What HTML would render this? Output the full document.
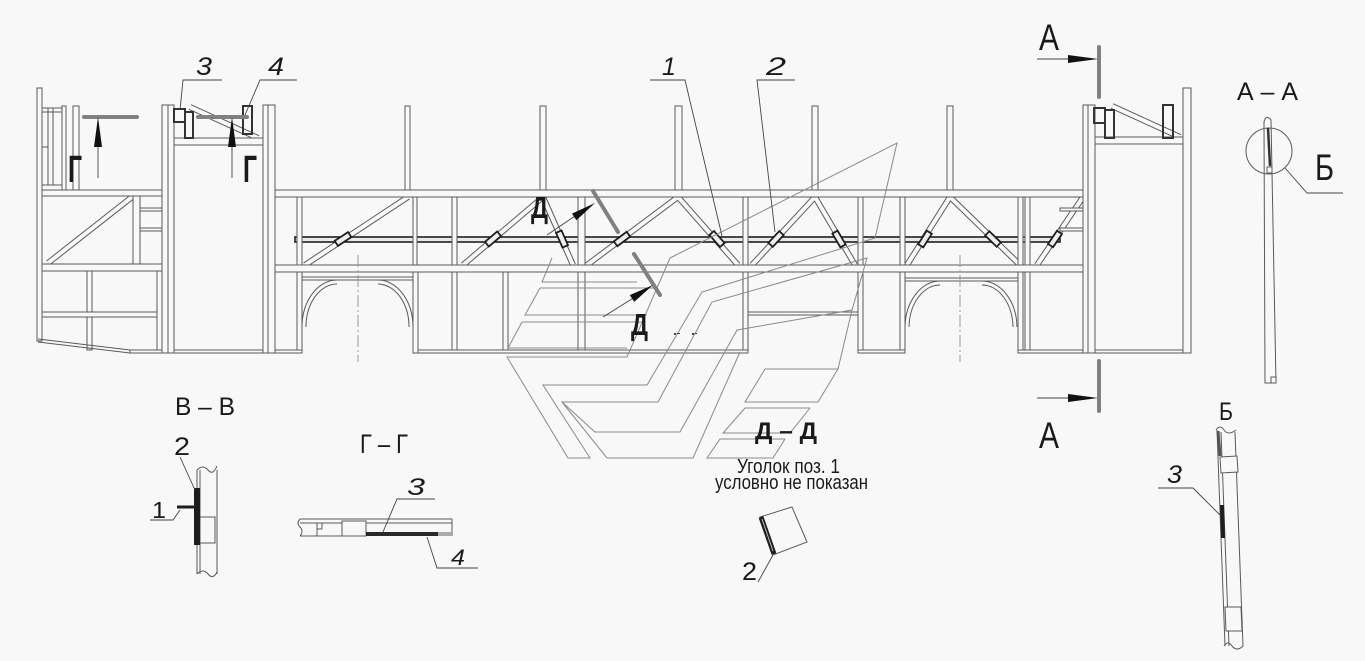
<!DOCTYPE html>
<html><head><meta charset="utf-8">
<style>
html,body{margin:0;padding:0;background:#f8f8f8;}
svg{display:block;}
.t{fill:#f8f8f8;stroke:#5a5a5a;stroke-width:1;}
.l{stroke:#5a5a5a;stroke-width:1;fill:none;}
.d{stroke:#5a5a5a;stroke-width:6;}
.di{stroke:#f8f8f8;stroke-width:4;}
.w{fill:none;stroke:#8a8a8a;stroke-width:1;}
.ld{stroke:#444;stroke-width:0.9;fill:none;}
.br{fill:none;stroke:#333;stroke-width:2;}
.clip{fill:#eee;stroke:#1e1e1e;stroke-width:1.8;}
text{font-family:"Liberation Sans",sans-serif;fill:#1a1a1a;}
</style></head><body>
<svg width="1365" height="661" viewBox="0 0 1365 661" xmlns="http://www.w3.org/2000/svg">
<rect x="0" y="0" width="1365" height="661" fill="#f8f8f8"/>

<!-- ===== DIAGONALS ===== -->
<g class="d">
<line x1="48" y1="263" x2="132" y2="197"/>
<line x1="190" y1="107" x2="258" y2="138"/>
<line x1="305" y1="265" x2="408" y2="197"/>
<line x1="463" y1="265" x2="543" y2="197"/>
<line x1="543" y1="197" x2="573" y2="265"/>
<line x1="587" y1="265" x2="678" y2="197"/>
<line x1="678" y1="197" x2="738" y2="265"/>
<line x1="752" y1="265" x2="815" y2="197"/>
<line x1="815" y1="197" x2="855" y2="265"/>
<line x1="907" y1="265" x2="950" y2="197"/>
<line x1="950" y1="197" x2="1020" y2="265"/>
<line x1="1037" y1="265" x2="1083" y2="197"/>
<line x1="1112" y1="106" x2="1180" y2="137"/>
</g>
<g class="di">
<line x1="48" y1="263" x2="132" y2="197"/>
<line x1="190" y1="107" x2="258" y2="138"/>
<line x1="305" y1="265" x2="408" y2="197"/>
<line x1="463" y1="265" x2="543" y2="197"/>
<line x1="543" y1="197" x2="573" y2="265"/>
<line x1="587" y1="265" x2="678" y2="197"/>
<line x1="678" y1="197" x2="738" y2="265"/>
<line x1="752" y1="265" x2="815" y2="197"/>
<line x1="815" y1="197" x2="855" y2="265"/>
<line x1="907" y1="265" x2="950" y2="197"/>
<line x1="950" y1="197" x2="1020" y2="265"/>
<line x1="1037" y1="265" x2="1083" y2="197"/>
<line x1="1112" y1="106" x2="1180" y2="137"/>
</g>

<!-- ===== RAIL ===== -->
<rect x="295" y="237" width="765" height="5" fill="#eaeaea" stroke="#1e1e1e" stroke-width="1.6"/>

<!-- clips -->
<g class="clip">
<rect x="340" y="231" width="6" height="16" transform="rotate(56.6 343 239)"/>
<rect x="490" y="231" width="6" height="16" transform="rotate(49.6 493 239)"/>
<rect x="559" y="231" width="6" height="16" transform="rotate(-23.8 562 239)"/>
<rect x="619" y="231" width="6" height="16" transform="rotate(53.2 622 239)"/>
<rect x="714" y="231" width="6" height="16" transform="rotate(-41.4 717 239)"/>
<rect x="773" y="231" width="6" height="16" transform="rotate(42.8 776 239)"/>
<rect x="836" y="231" width="6" height="16" transform="rotate(-30.5 839 239)"/>
<rect x="922" y="231" width="6" height="16" transform="rotate(32.3 925 239)"/>
<rect x="990" y="231" width="6" height="16" transform="rotate(-45.8 993 239)"/>
<rect x="1052" y="231" width="6" height="16" transform="rotate(34.1 1055 239)"/>
</g>

<!-- ===== LEFT SECTION ===== -->
<g class="t">
<rect x="37" y="88" width="5" height="253"/>
<rect x="42" y="108" width="20" height="82"/>
<rect x="62" y="106" width="4" height="84"/>
<rect x="73" y="106" width="6" height="84"/>
<rect x="42" y="190" width="126" height="6"/>
<rect x="133" y="196" width="7" height="68"/>
<rect x="140" y="208" width="22" height="3"/>
<rect x="140" y="228" width="22" height="3"/>
<rect x="42" y="264" width="126" height="7"/>
<rect x="87" y="271" width="5" height="79"/>
<rect x="42" y="312" width="115" height="5"/>
<rect x="157" y="271" width="5" height="82"/>
<rect x="130" y="350" width="38" height="3"/>
</g>
<g class="l">
<line x1="48" y1="108" x2="48" y2="185"/>
<line x1="53" y1="108" x2="53" y2="185"/>
<line x1="42" y1="112" x2="62" y2="112"/>
<line x1="42" y1="147" x2="48" y2="147"/>
<line x1="42" y1="185" x2="62" y2="185"/>
<line x1="38" y1="339" x2="130" y2="350"/>
<line x1="38" y1="342" x2="130" y2="353"/>
</g>

<!-- ===== LEFT BLOCK ===== -->
<g class="t">
<rect x="162" y="105" width="12" height="248"/>
<rect x="263" y="105" width="12" height="248"/>
<rect x="174" y="138" width="89" height="7"/>
<rect x="174" y="350" width="89" height="3"/>
</g>
<g class="l">
<line x1="168" y1="105" x2="168" y2="353"/>
<line x1="268" y1="105" x2="268" y2="353"/>
</g>
<g class="br">
<rect x="174" y="109" width="11" height="13"/>
<rect x="185" y="112" width="8" height="26"/>
<rect x="243" y="106" width="9" height="28"/>
</g>

<!-- ===== MAIN SECTION ===== -->
<g class="t">
<rect x="275" y="190" width="808" height="7"/>
<rect x="275" y="265" width="813" height="7"/>
<!-- upper posts -->
<rect x="405" y="106" width="5" height="84"/>
<rect x="540" y="106" width="6" height="84"/>
<rect x="675" y="106" width="7" height="84"/>
<rect x="812" y="106" width="6" height="84"/>
<rect x="947" y="106" width="6" height="84"/>
<!-- between beams -->
<rect x="297" y="197" width="5" height="68"/>
<rect x="413" y="197" width="4" height="68"/>
<rect x="452" y="197" width="5" height="68"/>
<rect x="578" y="197" width="7" height="68"/>
<rect x="743" y="197" width="5" height="68"/>
<rect x="858" y="197" width="5" height="68"/>
<rect x="900" y="197" width="5" height="68"/>
<rect x="1018" y="197" width="5" height="68"/>
<rect x="1025" y="197" width="5" height="68"/>
<rect x="1060" y="208" width="23" height="3"/>
<rect x="1060" y="228" width="23" height="3"/>
<!-- below lower beam -->
<rect x="297" y="272" width="5" height="81"/>
<rect x="413" y="272" width="5" height="81"/>
<rect x="452" y="272" width="5" height="81"/>
<rect x="503" y="272" width="5" height="81"/>
<rect x="578" y="272" width="7" height="81"/>
<rect x="743" y="272" width="5" height="81"/>
<rect x="858" y="272" width="5" height="81"/>
<rect x="900" y="272" width="5" height="81"/>
<rect x="1018" y="272" width="5" height="81"/>
<rect x="1025" y="272" width="5" height="81"/>
<rect x="748" y="312" width="110" height="3"/>
<rect x="302" y="277" width="111" height="3"/>
<rect x="905" y="278" width="113" height="3"/>
<!-- bottoms -->
<rect x="275" y="350" width="27" height="3"/>
<rect x="418" y="350" width="330" height="3"/>
<rect x="858" y="350" width="47" height="3"/>
<rect x="1018" y="350" width="173" height="3"/>
</g>
<!-- arches -->
<g class="l">
<path d="M302,327 A35,47 0 0 1 337,280"/>
<path d="M306,327 A31,43 0 0 1 337,284"/>
<path d="M378,280 A35,47 0 0 1 413,327"/>
<path d="M378,284 A31,43 0 0 1 409,327"/>
<path d="M905,327 A35,47 0 0 1 940,281"/>
<path d="M909,327 A31,43 0 0 1 940,285"/>
<path d="M982,281 A35,47 0 0 1 1017,327"/>
<path d="M982,285 A31,43 0 0 1 1013,327"/>
</g>
<g stroke="#9a9a9a" stroke-width="1" stroke-dasharray="12 3 2 3">
<line x1="358" y1="255" x2="358" y2="362"/>
<line x1="960" y1="255" x2="960" y2="362"/>
</g>

<!-- ===== RIGHT BLOCK ===== -->
<g class="t">
<rect x="1083" y="105" width="12" height="248"/>
<rect x="1183" y="88" width="8" height="265"/>
<rect x="1095" y="137" width="88" height="7"/>
<rect x="1095" y="350" width="88" height="3"/>
</g>
<line class="l" x1="1088" y1="105" x2="1088" y2="353"/>
<g class="br">
<rect x="1094" y="108" width="11" height="15"/>
<rect x="1105" y="110" width="9" height="28"/>
<rect x="1163" y="105" width="10" height="33"/>
</g>

<!-- ===== WATERMARK LOGO ===== -->
<g class="w">
<polygon points="507,357 627,357 670,258 897,143 875,238 702,292 647,385 543,385 590,458 568,458"/>
<polyline points="552,258 542,282 637,282"/>
<polyline points="540,288 657,288"/>
<polyline points="540,288 525,315 647,315"/>
<polyline points="522,322 643,322"/>
<polyline points="522,322 508,348 627,348"/>
<polygon points="562,402 658,402 712,302 867,258 852,310 737,330 680,432 595,432"/>
<polyline points="562,402 607,458 693,458 740,352"/>
<polyline points="852,310 838,369 765,369 745,402 818,402 838,369"/>
<polyline points="810,408 745,408 723,433 790,433 810,408"/>
<polyline points="785,439 720,439 707,458 773,458 785,439"/>
</g>
<g fill="#444">
<rect x="674" y="333" width="2" height="2"/><rect x="677" y="333" width="3" height="1"/>
<rect x="692" y="333" width="2" height="2"/><rect x="695" y="333" width="2" height="1"/>
</g>

<!-- ===== SECTION MARKERS ===== -->
<g stroke="#808080" stroke-width="4" stroke-linecap="round">
<line x1="84" y1="117" x2="137" y2="117"/>
<line x1="198" y1="117" x2="247" y2="117"/>
<line x1="1099" y1="47" x2="1099" y2="97"/>
<line x1="1099" y1="361" x2="1099" y2="411"/>
<line x1="593" y1="191" x2="618" y2="232"/>
<line x1="634" y1="254" x2="660" y2="295"/>
</g>
<g class="ld">
<line x1="98" y1="140" x2="98" y2="178"/>
<line x1="232" y1="140" x2="232" y2="178"/>
<line x1="1037" y1="59" x2="1075" y2="59"/>
<line x1="1037" y1="398" x2="1075" y2="398"/>
<line x1="547" y1="235" x2="578" y2="214"/>
<line x1="603" y1="317" x2="635" y2="297"/>
</g>
<g fill="#111">
<polygon points="98,117 94,147 102,147"/>
<polygon points="232,117 228,147 236,147"/>
<polygon points="1098,59 1068,55 1068,63"/>
<polygon points="1098,398 1068,394 1068,402"/>
<polygon points="595,203 576.4,220.2 572,213.6"/>
<polygon points="653,285 634.2,301.9 629.8,295.1"/>
</g>

<!-- letters on main view -->
<text x="68" y="182" font-size="38" font-weight="bold" textLength="14" lengthAdjust="spacingAndGlyphs">Г</text>
<text x="243" y="182" font-size="38" font-weight="bold" textLength="14" lengthAdjust="spacingAndGlyphs">Г</text>
<text x="531" y="218" font-size="31" font-weight="bold" textLength="17" lengthAdjust="spacingAndGlyphs">Д</text>
<text x="631" y="335" font-size="31" font-weight="bold" textLength="17" lengthAdjust="spacingAndGlyphs">Д</text>
<text x="1039" y="50" font-size="37" textLength="20" lengthAdjust="spacingAndGlyphs">А</text>
<text x="1039" y="448" font-size="37" textLength="20" lengthAdjust="spacingAndGlyphs">А</text>

<!-- position numbers -->
<g font-style="italic">
<text x="196" y="75" font-size="25" textLength="16" lengthAdjust="spacingAndGlyphs">3</text>
<text x="268" y="75" font-size="25" textLength="16" lengthAdjust="spacingAndGlyphs">4</text>
<text x="662" y="75" font-size="25" textLength="14" lengthAdjust="spacingAndGlyphs">1</text>
<text x="766" y="75" font-size="25" textLength="20" lengthAdjust="spacingAndGlyphs">2</text>
</g>
<g class="ld">
<polyline points="222,80 183,80 180,110"/>
<polyline points="297,80 260,80 245,115"/>
<polyline points="650,80 685,80 722,236"/>
<polyline points="795,80 757,80 775,232"/>
</g>

<!-- ===== A-A VIEW ===== -->
<text x="1237" y="100" font-size="25" textLength="61" lengthAdjust="spacingAndGlyphs">А – А</text>
<circle cx="1269" cy="151" r="23" class="l"/>
<path class="l" d="M1265,383 L1264,122 Q1266,114 1271,120 L1276,383 Z"/>
<line x1="1268" y1="128" x2="1270" y2="166" stroke="#333" stroke-width="2.5"/>
<rect x="1267" y="167" width="5" height="6" class="t"/>
<rect x="1271" y="377" width="5" height="6" class="t"/>
<polyline class="ld" points="1285,168 1307,193 1343,193"/>
<text x="1315" y="180" font-size="37" textLength="19" lengthAdjust="spacingAndGlyphs">Б</text>

<!-- ===== Б DETAIL ===== -->
<text x="1219" y="420" font-size="25" textLength="14" lengthAdjust="spacingAndGlyphs">Б</text>
<g class="l">
<line x1="1217" y1="430" x2="1225" y2="646"/>
<line x1="1221" y1="432" x2="1229" y2="646"/>
<line x1="1235" y1="432" x2="1243" y2="646"/>
<path d="M1216,430 Q1220,424 1224,430 Q1228,436 1236,430"/>
<path d="M1224,646 Q1228,640 1232,646 Q1237,652 1243,646"/>
<polygon points="1220,457 1237,456 1238,472 1221,473" fill="#f8f8f8"/>
<polygon points="1225,607 1241,607 1242,631 1226,631" fill="#f8f8f8"/>
</g>
<line x1="1218" y1="431" x2="1220" y2="456" stroke="#555" stroke-width="3"/>
<line x1="1222" y1="505" x2="1223" y2="538" stroke="#1e1e1e" stroke-width="4"/>
<text x="1167" y="483" font-size="25" font-style="italic" textLength="15" lengthAdjust="spacingAndGlyphs">3</text>
<polyline class="ld" points="1158,488 1193,488 1220,515"/>

<!-- ===== В-В ===== -->
<text x="175" y="415" font-size="25" textLength="60" lengthAdjust="spacingAndGlyphs">В – В</text>
<g class="l">
<line x1="197" y1="470" x2="197" y2="574"/>
<line x1="200" y1="470" x2="200" y2="574"/>
<line x1="217" y1="470" x2="217" y2="574"/>
<path d="M197,470 Q203,464 208,470 Q213,476 217,466"/>
<path d="M197,574 Q203,568 208,574 Q213,580 217,572"/>
<rect x="200" y="517" width="15" height="26" fill="#f8f8f8"/>
</g>
<rect x="194" y="488" width="6" height="57" fill="#1e1e1e"/>
<line x1="177" y1="507" x2="194" y2="507" stroke="#1e1e1e" stroke-width="3"/>
<text x="174" y="455" font-size="25" textLength="16" lengthAdjust="spacingAndGlyphs">2</text>
<text x="152" y="518" font-size="23" textLength="14" lengthAdjust="spacingAndGlyphs">1</text>
<g class="ld">
<line x1="180" y1="457" x2="195" y2="490"/>
<polyline points="150,520 173,520 180,510"/>
</g>

<!-- ===== Г-Г ===== -->
<text x="360" y="453" font-size="27" textLength="48" lengthAdjust="spacingAndGlyphs">Г – Г</text>
<g class="l">
<line x1="300" y1="519" x2="452" y2="519"/>
<line x1="300" y1="523" x2="317" y2="523"/>
<line x1="366" y1="523" x2="452" y2="523"/>
<line x1="300" y1="536" x2="366" y2="536"/>
<path d="M300,519 Q296,523 300,527 Q304,531 300,536"/>
<line x1="452" y1="519" x2="452" y2="536"/>
<rect x="317" y="523" width="25" height="13"/>
<rect x="342" y="521" width="24" height="15"/>
<line x1="322" y1="523" x2="322" y2="529"/>
<line x1="317" y1="529" x2="322" y2="529"/>
</g>
<rect x="366" y="532" width="72" height="4" fill="#2a2a2a"/>
<rect x="438" y="532" width="14" height="4" fill="#aaa"/>
<g font-style="italic">
<text x="407" y="495" font-size="24" textLength="18" lengthAdjust="spacingAndGlyphs">3</text>
<text x="451" y="565" font-size="22" textLength="14" lengthAdjust="spacingAndGlyphs">4</text>
</g>
<g class="ld">
<polyline points="435,499 397,499 383,532"/>
<polyline points="478,568 437,568 427,537"/>
</g>

<!-- ===== Д-Д ===== -->
<text x="755" y="439" font-size="24" font-weight="bold" textLength="62" lengthAdjust="spacingAndGlyphs">Д – Д</text>
<text x="737" y="473" font-size="20" textLength="103" lengthAdjust="spacingAndGlyphs">Уголок поз. 1</text>
<text x="715" y="489" font-size="20" textLength="153" lengthAdjust="spacingAndGlyphs">условно не показан</text>
<polygon points="760,517 792,507 807,542 773,555" class="l"/>
<line x1="761" y1="517" x2="774" y2="554" stroke="#1e1e1e" stroke-width="5"/>
<line x1="762" y1="519" x2="773" y2="551" stroke="#bbb" stroke-width="1"/>
<text x="742" y="580" font-size="25" textLength="15" lengthAdjust="spacingAndGlyphs">2</text>
<line class="ld" x1="758" y1="582" x2="773" y2="555"/>

</svg>
</body></html>
